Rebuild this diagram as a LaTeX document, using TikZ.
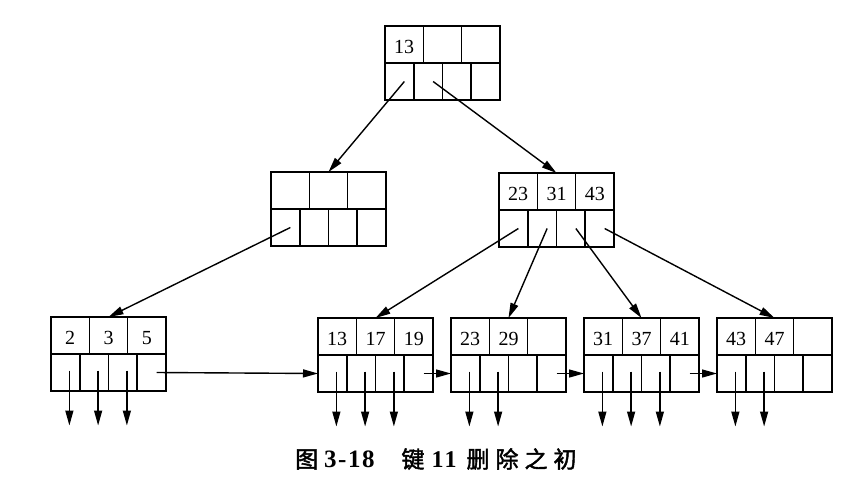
\documentclass[tikz,border=0pt]{standalone}
\usepackage{fontspec}
\setmainfont{Liberation Serif}
\newfontfamily\cjk[FakeBold=2]{Noto Sans CJK SC}
\usetikzlibrary{arrows.meta,calc}
\tikzset{
  box/.style={draw, line width=1.6pt, inner sep=0pt, outer sep=0pt, minimum width=115pt, minimum height=74pt, anchor=north west},
  kcell/.style={draw, line width=1.6pt, inner sep=0pt, outer sep=0pt, minimum width=38.333pt, minimum height=37pt, anchor=north west},
  ktext/.style={inner sep=0pt, font=\fontsize{20}{22}\selectfont},
  pcell/.style={draw, line width=1.6pt, inner sep=0pt, outer sep=0pt, minimum width=28.75pt, minimum height=37pt, anchor=north west},
  arr/.style={line width=1.4pt, -{Triangle[length=15pt,width=8pt]}},
}
\newcommand\bpnode[6]{%
  \node[box] (#1) at (#2,#3) {};
  \node[kcell] (#1-k1) at (#1.north west) {};
  \node[kcell] (#1-k2) at (#1-k1.north east) {};
  \node[kcell] (#1-k3) at (#1-k2.north east) {};
  \node[ktext] (#1-t1) at ($(#1-k1.center)+(0,2.5)$) {#4};
  \node[ktext] (#1-t2) at ($(#1-k2.center)+(0,2.5)$) {#5};
  \node[ktext] (#1-t3) at ($(#1-k3.center)+(0,2.5)$) {#6};
  \node[pcell] (#1-p1) at (#1-k1.south west) {};
  \node[pcell] (#1-p2) at (#1-p1.north east) {};
  \node[pcell] (#1-p3) at (#1-p2.north east) {};
  \node[pcell] (#1-p4) at (#1-p3.north east) {};
}
\begin{document}
\begin{tikzpicture}[x=1pt,y=-1pt]
\useasboundingbox (0,0) rectangle (860,482);
% nodes
\bpnode{root}{385}{26}{13}{}{}
\bpnode{L}{271}{172}{}{}{}
\bpnode{R}{499}{173}{23}{31}{43}
\bpnode{A}{51}{317}{2}{3}{5}
\bpnode{B}{318}{318}{13}{17}{19}
\bpnode{C}{451}{318}{23}{29}{}
\bpnode{D}{584}{318}{31}{37}{41}
\bpnode{E}{717}{318}{43}{47}{}
% tree pointers
\draw[arr] ($(root-p1.center)+(5,0)$) -- (L.north);
\draw[arr] ($(root-p2.center)+(5,0)$) -- (R.north);
\draw[arr] ($(L-p1.center)+(5,0)$) -- (A.north);
\draw[arr] ($(R-p1.center)+(5,0)$) -- (B.north);
\draw[arr] ($(R-p2.center)+(5,0)$) -- (C.north);
\draw[arr] ($(R-p3.center)+(5,0)$) -- (D.north);
\draw[arr] ($(R-p4.center)+(5,0)$) -- (E.north);
% leaf chain
\draw[arr] ($(A-p4.center)+(5,0)$) -- (B-p1.west);
\draw[arr] ($(B-p4.center)+(5,0)$) -- (C-p1.west);
\draw[arr] ($(C-p4.center)+(5,0)$) -- (D-p1.west);
\draw[arr] ($(D-p4.center)+(5,0)$) -- (E-p1.west);
% record pointers
\foreach \n/\k in {A/1,A/2,A/3,B/1,B/2,B/3,C/1,C/2,D/1,D/2,D/3,E/1,E/2}{
  \draw[arr] ($(\n-p\k.center)+(4,-2)$) -- ++(0,55);
}
% caption
\node[inner sep=0pt, anchor=west] (cap) at (295,459)
  {{\fontsize{23}{25}\selectfont\cjk 图}\hspace{6pt}%
   {\fontsize{25}{27}\selectfont\bfseries 3\hspace{1.5pt}-\hspace{1.5pt}1\hspace{1.5pt}8}\hspace{27pt}%
   {\fontsize{23}{25}\selectfont\cjk 键}\hspace{7pt}%
   {\fontsize{24}{26}\selectfont\bfseries 1\hspace{1pt}1}\hspace{10pt}%
   {\fontsize{23}{25}\selectfont\cjk 删\hspace{6pt}除\hspace{6pt}之\hspace{6pt}初}};
\end{tikzpicture}
\end{document}
